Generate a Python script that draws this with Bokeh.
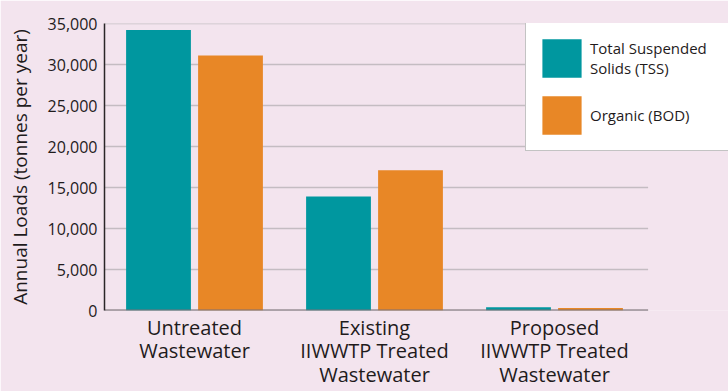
from bokeh.plotting import figure
from bokeh.models import Range1d, ColumnDataSource, Legend, LegendItem, NumeralTickFormatter, FixedTicker
from bokeh.embed import file_html
from bokeh.resources import INLINE

categories = ["Untreated\nWastewater", "Existing\nIIWWTP Treated\nWastewater", "Proposed\nIIWWTP Treated\nWastewater"]
tss = [34200, 13900, 400]
bod = [31100, 17100, 300]
y_ticks = [0, 5000, 10000, 15000, 20000, 25000, 30000, 35000]
series_names = ["Total Suspended\nSolids (TSS)", "Organic (BOD)"]

BG = "#f3e4ee"
TEAL = "#00979f"
ORANGE = "#e88726"
TXT = "#1f1b1c"
FONT = "Open Sans"

n_cat = len(categories)
centers = [i + 0.5 for i in range(n_cat)]
grid_end = n_cat + 0.02

src = ColumnDataSource(dict(xc=centers, x_tss=[c - 0.2 for c in centers], x_bod=[c + 0.2 for c in centers],
                            tss=tss, bod=bod))

p = figure(width=728, height=391, x_range=Range1d(0, 624 / 180),
           y_range=Range1d(0, 35000), output_backend="svg", toolbar_location=None,
           background_fill_color=BG, border_fill_color=BG,
           min_border_left=104, min_border_right=0, min_border_top=23, min_border_bottom=81)
p.outline_line_color = None

p.segment(x0=[0] * len(y_ticks), y0=y_ticks, x1=[grid_end] * len(y_ticks), y1=y_ticks,
          line_color="#c4bcc2", line_width=1.5)

r1 = p.vbar(x="x_tss", top="tss", width=0.36, source=src, fill_color=TEAL, line_color=None)
r2 = p.vbar(x="x_bod", top="bod", width=0.36, source=src, fill_color=ORANGE, line_color=None)

p.segment(x0=[0], y0=[y_ticks[0]], x1=[grid_end], y1=[y_ticks[0]],
          line_color="#7a7076", line_width=2)

p.xgrid.grid_line_color = None
p.ygrid.grid_line_color = None
p.yaxis.ticker = FixedTicker(ticks=y_ticks)
p.yaxis.formatter = NumeralTickFormatter(format="0,0")
p.yaxis.axis_label = "Annual Loads (tonnes per year)"
p.yaxis.axis_label_text_font = FONT
p.yaxis.axis_label_text_font_size = "19px"
p.yaxis.axis_label_text_font_style = "normal"
p.yaxis.axis_label_text_color = TXT
p.yaxis.axis_label_standoff = 12
p.yaxis.major_label_text_font = FONT
p.yaxis.major_label_text_font_size = "16px"
p.yaxis.major_label_text_color = TXT
p.yaxis.major_label_standoff = 1
p.yaxis.major_tick_line_color = None
p.yaxis.minor_tick_line_color = None
p.yaxis.axis_line_color = "#2a2628"
p.yaxis.axis_line_width = 1.5

p.xaxis.ticker = FixedTicker(ticks=centers)
p.xaxis.major_label_overrides = {c: lab for c, lab in zip(centers, categories)}
p.xaxis.major_label_text_font = FONT
p.xaxis.major_label_text_font_size = "20px"
p.xaxis.major_label_text_color = TXT
p.xaxis.major_label_text_line_height = 0.88
p.xaxis.major_label_standoff = -3
p.xaxis.major_tick_line_color = None
p.xaxis.minor_tick_line_color = None
p.xaxis.axis_line_color = None

legend = Legend(items=[LegendItem(label=series_names[0], renderers=[r1]),
                       LegendItem(label=series_names[1], renderers=[r2])],
                location=(421, 159))
legend.title = " "
legend.title_text_font_size = "2px"
legend.title_standoff = 3
legend.background_fill_color = "white"
legend.background_fill_alpha = 1
legend.border_line_color = "#888888"
legend.border_line_width = 1.5
legend.glyph_width = 49
legend.glyph_height = 48
legend.label_text_font = FONT
legend.label_text_font_size = "15px"
legend.label_text_line_height = 0.88
legend.label_text_color = TXT
legend.label_standoff = 4
legend.spacing = 9
legend.padding = 11
legend.margin = 0
legend.label_width = 160
p.add_layout(legend)

open("out.html", "w").write(file_html(p, INLINE))
